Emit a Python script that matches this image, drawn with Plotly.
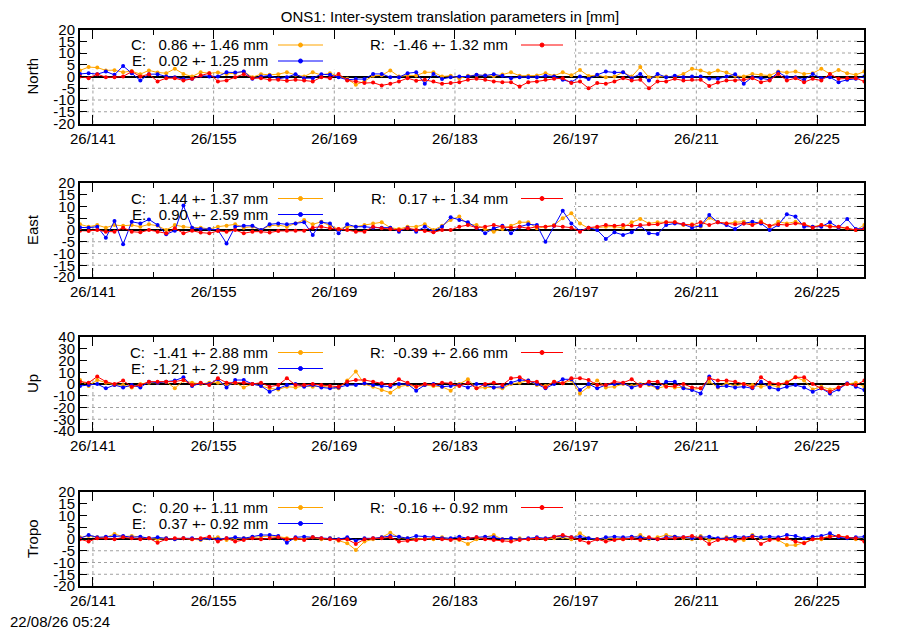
import plotly.graph_objects as go

# day of year (2026), one solution per day, plotted at noon
days = list(range(139, 231))

xtick_vals = [141, 155, 169, 183, 197, 211, 225]
xtick_text = ["26/141", "26/155", "26/169", "26/183", "26/197", "26/211", "26/225"]
xminor_vals = [148, 162, 176, 190, 204, 218]

ytick_vals_20 = [-20, -15, -10, -5, 0, 5, 10, 15, 20]
ytick_text_20 = ["-20", "-15", "-10", "-5", "0", "5", "10", "15", "20"]
ytick_vals_40 = [-40, -30, -20, -10, 0, 10, 20, 30, 40]
ytick_text_40 = ["-40", "-30", "-20", "-10", "0", "10", "20", "30", "40"]

# North [mm]
north_c = [2.6, 4.0, 3.8, 2.6, 2.7, 1.8, 2.3, 1.0, 2.6, 1.7, 1.4, 3.3, 1.1, 0.0, 1.8, 1.4,
           1.7, 1.1, 1.4, 2.1, -0.3, 1.0, 0.7, 1.0, 1.8, 0.7, 0.0, 1.8, 0.6, 1.4, 0.0, -1.0,
           -3.5, -2.0, 0.3, 0.5, 2.6, 0.0, 0.5, 0.4, 1.8, 1.8, 0.0, 0.3, -0.8, 0.3, 0.6, 0.5,
           0.2, 0.8, 1.8, 0.3, 0.3, 0.4, 1.4, 0.3, 1.8, 0.5, 2.8, 0.2, 0.6,
           -0.3, 0.0, 1.8, 0.0, 4.0, -0.3, 0.0, 0.0, 0.0, 1.1, 3.3, 2.6, 1.4, 2.6, 1.7, 0.3,
           0.0, 1.1, 0.7, 0.4, 2.1, 1.7, 2.1, 1.1, 1.4, 3.3, 1.1, 2.8, 1.4, 0.7, 2.1]
north_e = [1.1, 1.4, 1.0, 2.1, 0.7, 4.5, 1.4, -1.7, 1.0, 1.0, 0.0, -0.3, -1.1, -1.0, 0.3, 0.0,
           0.0, 1.8, 1.7, 2.1, -1.0, 0.0, 0.4, -1.0, -0.3, 1.0, -0.7, -0.7, 1.0, 0.7, -0.3, -1.4,
           -1.1, -1.1, 1.1, 1.1, -0.3, -0.3, 1.4, 1.8, -3.1, 1.1, -1.1, -0.3, 0.0, 0.0, 0.7, 0.4,
           1.0, 0.3, -0.7, -0.3, -0.3, -0.3, 0.3, 0.0, -1.4, -2.4, 0.0, -1.1, 0.7,
           2.1, 1.7, 1.8, -0.7, 1.1, -1.7, 1.1, -0.3, 0.3, -0.3, 0.0, 0.0, -1.0, -1.0, 0.0, 1.0,
           -3.1, -0.3, -0.7, -1.4, 1.8, -0.3, -0.3, -1.4, 1.1, -0.7, -0.3, -2.4, -1.4, -1.0, 0.0]
north_r = [0.0, -0.7, 1.0, -0.3, -0.3, 0.0, 2.1, 0.0, 1.0, -2.1, -0.7, -0.7, -1.7, -1.0, 0.4, 1.4,
           -2.1, -1.7, -0.3, 1.0, -0.7, -0.7, -1.4, -1.4, -1.8, -1.4, -1.7, -2.1, -0.3, -0.7, 1.1, -1.7,
           -2.1, -2.8, -2.6, -3.8, -3.1, -2.1, -0.7, -1.8, -1.4, -2.1, -3.1, -2.8, -2.4, -1.4, -1.0, -1.4,
           -2.1, -2.4, -2.4, -4.3, -2.4, -2.1, -1.4, -1.0, -0.7, -2.8, -2.1, -5.0, -2.8,
           -3.1, -2.1, -0.7, -1.7, -1.4, -5.0, -2.1, -2.1, -1.0, -1.7, -1.4, -1.4, -4.0, -2.6, -1.7, -1.7,
           -1.4, -0.7, -2.4, -1.7, 1.1, -1.7, -0.7, -2.4, -1.0, -1.7, 1.1, -1.0, -0.7, -0.7, -2.1]

# East [mm]
east_c = [2.4, 1.4, 2.1, 1.0, 2.1, 1.8, 2.1, 1.4, 2.4, 1.8, 0.0, 2.1, 1.4, 1.0, 1.0, 0.4,
          1.4, 1.8, 2.4, 1.0, 1.4, 0.0, 1.8, 2.1, 1.4, 2.8, 4.3, 2.4, 3.5, 1.8, 0.4, 1.4,
          1.4, 2.1, 2.8, 3.3, 1.0, 0.4, 1.4, 1.4, 2.4, 0.0, 1.8, 4.3, 5.7, 2.4, 2.1, 0.4,
          -0.7, 0.4, 1.8, 3.3, 3.3, 0.7, 1.4, 2.1, 5.0, 7.1, 2.8, 0.7, 1.0, 1.4, 1.4, 1.0,
          3.3, 4.7, 2.8, 3.3, 3.3, 3.3, 2.1, 2.4, 1.4, 5.2, 3.3, 2.8, 3.3, 3.5, 2.4, 3.8,
          1.4, 3.5, 2.8, 3.5, 2.4, 1.4, 2.1, 1.8, 1.0, 0.7, 0.0, 2.1]
east_e = [1.1, 1.0, 1.4, -3.3, 3.8, -6.1, 3.5, 2.8, 4.5, 2.1, -1.8, -0.3, 10.4, 1.0, 0.4, 0.4,
          0.0, -5.7, 1.4, 1.8, 1.8, 0.0, 2.4, 2.8, 2.4, 2.8, 3.3, -2.1, 3.3, 2.8, -1.4, 2.4,
          1.4, 1.4, 1.0, 1.0, 1.0, -0.7, 1.0, -0.7, 1.4, -0.7, 1.4, 5.4, 4.3, 3.3, 1.0, -1.4,
          0.7, 1.8, -1.4, 1.4, 2.4, 2.1, -5.0, 1.8, 8.2, 2.8, -0.4, 1.0, 0.0, -3.8, -1.0, -2.1,
          -1.0, 1.8, -1.4, -1.7, 2.1, 2.8, 2.4, 1.0, 1.8, 6.4, 3.3, 2.1, 0.4, 2.8, 3.5, 2.8,
          0.0, 2.1, 6.7, 5.7, 1.4, 1.4, 1.4, 3.3, 1.0, 4.7, 0.4, 0.7]
east_r = [-0.3, -0.4, 0.0, -0.7, -0.7, 1.0, -0.7, -1.0, 0.0, -0.7, -1.4, 0.7, -1.4, -0.3, -1.1, -1.4,
          -0.4, -0.7, 0.0, -1.4, -0.7, -0.7, -1.1, -0.4, -0.3, -0.3, -0.3, 1.0, 1.4, 0.7, 0.4, 0.0,
          -0.7, -0.7, 1.4, 0.7, 0.4, 0.0, 0.7, 0.0, -0.4, -1.0, 0.0, 0.0, 1.4, 2.1, 1.0, 1.4,
          2.1, 1.4, 1.0, 1.4, 0.7, 1.4, 1.4, 1.8, 1.4, 1.0, -0.7, 1.0, 1.4, 2.1, 1.8, 2.1,
          1.8, 2.1, 2.4, 2.4, 3.3, 3.3, 2.4, 2.1, 3.3, 2.1, 3.3, 2.8, 2.4, 2.8, 2.1, 3.3,
          1.8, 2.4, 2.1, 2.8, 2.4, 1.0, 2.1, 1.4, 1.4, 0.7, 0.0, 0.4]

# Up [mm]
up_c = [3.4, -1.7, 3.4, 1.1, -0.9, -0.9, -2.9, 0.0, 1.1, 1.1, 2.0, -3.7, 2.9, 1.1, 0.0, 1.1,
        1.1, -0.9, 1.1, -2.9, 0.0, -1.7, -3.7, -4.6, -2.3, -2.9, -1.7, -2.3, -1.7, -2.9, -3.7, 2.9,
        10.6, 0.0, -2.3, -5.1, -7.4, -2.3, -0.9, -2.3, -0.9, -1.7, -2.3, -5.7, 0.0, 4.0, -3.7, -2.9,
        -2.9, -3.7, 0.0, 1.1, 2.9, -0.9, -1.7, 2.0, 0.6, 2.9, -8.0, -2.3, 2.9, -2.9, -2.3, 0.0,
        -1.7, 0.0, -0.9, -3.7, -1.7, -2.9, -2.9, -4.6, -3.7, 2.0, -2.9, 0.6, -1.7, 0.0, -0.9, -2.3,
        -0.9, -2.3, 2.0, 5.7, 2.9, -4.6, -2.3, -4.6, -2.9, 0.0, 1.1, -2.3]
up_e = [-1.7, -0.9, 0.0, -3.7, -0.9, -2.9, -0.9, -2.9, 2.0, 1.1, 2.0, 2.9, 5.7, -1.7, 0.6, 0.0,
        4.0, -2.9, 3.4, 3.4, 0.0, -1.7, -6.6, -3.7, -0.9, 0.0, -2.3, -0.9, -2.9, -3.7, -2.9, -0.9,
        -0.9, 0.6, -0.9, -1.7, -2.3, 0.0, 0.0, -5.7, -0.9, 0.0, -2.3, -1.7, -0.9, -2.9, 0.0, -0.9,
        -2.9, -2.3, 1.1, 3.4, 2.9, 0.0, -3.7, 0.0, 4.0, 4.0, -5.1, 0.0, -3.7, -0.9, 0.0, 0.6,
        -2.9, -0.9, 0.0, -2.9, 2.0, 2.0, -3.7, -5.1, -8.0, 6.3, -2.3, -1.7, -2.9, -2.3, -3.7, 2.0,
        -2.9, -4.6, -2.3, -0.9, -2.9, -6.6, -3.7, -8.0, -4.6, 0.6, -2.3, -5.1]
up_r = [2.0, 1.1, 6.3, 2.0, 0.0, 2.9, -2.3, -0.9, 2.0, 2.0, 2.0, 2.0, 3.4, -0.9, 1.1, -0.9,
        4.9, 1.1, 1.1, 1.1, 0.0, 1.1, -2.3, -0.9, 4.9, -0.9, -0.9, 0.0, -0.9, -1.7, -2.3, 2.0,
        3.4, 3.4, 2.0, 0.6, -0.9, 4.0, 1.1, -2.3, 0.0, -0.9, 1.1, 0.6, -1.7, 1.1, -3.7, 0.0,
        1.1, -0.9, 4.9, 5.7, 2.0, 2.0, -2.9, 2.0, 0.6, 4.9, 4.9, 3.4, -0.9, -0.9, 2.0, 1.1,
        4.0, -1.7, 2.0, 2.0, -2.3, -1.7, 0.0, -2.9, -3.7, 4.9, 2.9, 2.9, 2.0, 0.0, -2.9, 5.7,
        1.1, 0.0, 1.1, 5.7, 5.7, 0.0, -3.7, -6.6, -2.9, 0.0, -0.9, 2.9]

# Tropo [mm]
tropo_c = [0.7, 1.3, 0.7, 0.7, 2.1, 1.0, 1.3, 0.7, 0.3, -0.1, 0.3, -0.1, 0.3, -0.1, -0.4, 0.3,
           0.7, -0.4, 0.3, 0.3, 0.7, 1.0, 1.3, 1.0, 0.3, -0.1, 0.3, 0.7, -0.1, 0.3, -0.7, -1.8,
           -4.7, -1.1, -0.1, 0.7, 2.7, 0.7, 0.3, -0.1, 0.3, -0.1, 0.7, -0.1, -0.4, -2.1, -0.1, 0.7,
           1.7, -0.1, -0.4, 0.3, -0.1, 0.3, -0.1, 0.3, 0.7, -0.1, 2.4, 0.3, -0.1, 0.3, 0.3, -0.1,
           0.3, 1.7, -0.1, 0.7, 1.7, 1.0, 0.3, -0.1, 1.3, -0.4, -0.1, 0.7, -0.1, -0.4, 1.7, 0.3,
           -0.1, -0.4, -2.6, -2.6, -1.6, -0.1, -0.1, 1.7, 1.3, 0.7, -0.1, -0.4]
tropo_e = [0.3, 1.7, 0.7, 1.0, 1.3, 1.3, 0.7, 1.0, 0.3, 0.7, 0.3, -0.1, 0.3, 0.3, -0.1, 0.3,
           -0.1, 0.3, 0.7, 0.3, 1.0, 1.7, 1.7, 1.3, -1.6, 0.7, 1.0, 0.7, 0.3, 0.3, -0.1, 0.7,
           -0.7, 0.3, 0.3, 0.7, 1.3, 1.0, 0.3, 1.3, 1.0, 0.7, 0.3, 0.3, 1.0, 0.3, 0.7, 1.0,
           0.7, -0.1, 0.3, -0.1, 0.3, 0.7, 0.3, 1.0, 1.3, 0.7, 1.0, 0.3, -0.1, 0.7, 1.0, 0.7,
           1.0, 0.7, 0.3, -0.1, 0.7, 1.0, 0.7, 0.3, 0.7, 1.0, 0.3, 0.3, 1.0, 0.7, 1.3, 0.7,
           1.0, 0.7, 1.7, 1.3, 0.3, 1.0, 1.3, 2.4, 0.7, 0.3, 0.7, 1.0]
tropo_r = [-0.1, -1.1, 0.3, 0.3, -0.1, 0.7, 0.3, -0.1, 0.3, -1.6, -0.1, 0.3, 0.3, -0.1, 0.3, 1.0,
           -1.1, 0.3, -1.1, -0.4, 0.3, -0.1, 0.3, 0.7, -0.1, 0.3, -0.4, 0.7, 0.3, -0.1, -0.4, -0.1,
           -2.1, -0.1, 0.3, 0.3, 0.7, -1.1, -0.7, -0.4, -0.1, 0.3, -0.1, -0.4, -0.1, 0.3, 0.7, -0.1,
           -0.4, -0.7, -1.1, -0.4, -0.1, 0.3, -0.1, 1.0, 1.7, 0.7, -0.4, -1.6, -0.1, -1.1, -0.4, -0.1,
           0.3, -0.4, 0.7, -0.1, 0.3, 0.3, 0.7, 1.3, 0.3, -2.1, -0.4, -0.1, -0.7, 0.3, 1.0, -2.1,
           -0.4, -0.1, 0.3, -1.1, -1.8, -0.1, 0.3, 1.0, 1.3, 0.7, 0.3, -1.1]

# mean, rms per system shown in the keys
north_stats = [(0.86, 1.46), (0.02, 1.25), (-1.46, 1.32)]
east_stats = [(1.44, 1.37), (0.90, 2.59), (0.17, 1.34)]
up_stats = [(-1.41, 2.88), (-1.21, 2.99), (-0.39, 2.66)]
tropo_stats = [(0.20, 1.11), (0.37, 0.92), (-0.16, 0.92)]

systems = ["C", "E", "R"]
colors = ["#ffa500", "#0000ff", "#ff0000"]

panels = [
    ("North", [north_c, north_e, north_r], north_stats, 20),
    ("East", [east_c, east_e, east_r], east_stats, 20),
    ("Up", [up_c, up_e, up_r], up_stats, 40),
    ("Tropo", [tropo_c, tropo_e, tropo_r], tropo_stats, 20),
]

# positions below are page pixels; the page body adds an 8px offset
W, H = 900, 630
off = 8
plot_l, plot_r, plot_t, plot_b = 80, 864, 29, 586
pw, ph_total = plot_r - plot_l, plot_b - plot_t
panel_tops = [29.5, 183, 337, 492]
panel_h = 94
xmin, xmax = 139.5, 230.45

x = [d + 0.5 for d in days]
font = "Liberation Sans, Arial, sans-serif"
fs = 15
grid_line = dict(color="#a0a0a0", width=1, dash="dot")

fig = go.Figure()
shapes = []
annotations = []


def fx(px):
    return (px - plot_l) / pw


def fy(py, ptop):
    return (ptop + panel_h - py) / panel_h


for k, (name, series, stats, lim) in enumerate(panels):
    n = "" if k == 0 else str(k + 1)
    ptop = panel_tops[k]
    for sys_name, col, vals in zip(systems, colors, series):
        fig.add_trace(go.Scatter(
            x=x, y=vals, xaxis="x" + n, yaxis="y" + n,
            mode="lines+markers", line=dict(color=col, width=1),
            marker=dict(color=col, size=4), showlegend=False,
            name=sys_name,
        ))

    y0 = (plot_b - (ptop + panel_h)) / ph_total
    y1 = (plot_b - ptop) / ph_total
    if lim == 20:
        tv, tt = ytick_vals_20, ytick_text_20
    else:
        tv, tt = ytick_vals_40, ytick_text_40

    fig.update_layout({
        "xaxis" + n: dict(
            domain=[0, 1], anchor="y" + n, range=[xmin, xmax],
            tickmode="array", tickvals=xtick_vals, ticktext=xtick_text,
            ticks="inside", ticklen=9, tickwidth=1, tickcolor="black",
            minor=dict(tickmode="array", tickvals=xminor_vals, ticks="inside",
                       ticklen=5, tickwidth=1, tickcolor="black", showgrid=False),
            showline=True, linecolor="black", linewidth=2, mirror="ticks",
            showgrid=False, zeroline=False,
            tickfont=dict(family=font, size=fs, color="black"),
        ),
        "yaxis" + n: dict(
            domain=[y0, y1], anchor="x" + n, range=[-lim, lim],
            tickmode="array", tickvals=tv, ticktext=tt,
            ticks="inside", ticklen=7, tickwidth=1, tickcolor="black",
            showline=True, linecolor="black", linewidth=2, mirror="ticks",
            showgrid=False,
            zeroline=True, zerolinecolor="black", zerolinewidth=2,
            tickfont=dict(family=font, size=fs, color="black"),
        ),
    })

    xr = "x" + n + " domain"
    yr = "y" + n + " domain"
    # dotted grid
    for gx in xtick_vals:
        shapes.append(dict(type="line", xref="x" + n, yref=yr, layer="below",
                           x0=gx, x1=gx, y0=0, y1=1, line=grid_line))
    for gy in tv:
        if gy != 0 and abs(gy) != lim:
            shapes.append(dict(type="line", xref=xr, yref="y" + n, layer="below",
                               x0=0, x1=1, y0=gy, y1=gy, line=grid_line))
    # opaque key box
    shapes.append(dict(type="rect", xref=xr, yref=yr, layer="below",
                       x0=fx(81), x1=fx(574), y0=fy(ptop + 40, ptop), y1=fy(ptop + 1, ptop),
                       fillcolor="white", line=dict(width=0)))

    # key entries: C, E in first column, R in second
    key_pos = [(270, 278, 323, ptop + 15.5), (270, 278, 323, ptop + 31.5), (510, 521, 563, ptop + 15.5)]
    for (sys_name, col, (m, s), (tx, lx0, lx1, ly)) in zip(systems, colors, stats, key_pos):
        label = f"{sys_name}: {m:6.2f} +- {s:.2f} mm".replace(" ", "\u00a0")
        annotations.append(dict(text=label, xref=xr, yref=yr, x=fx(tx), y=fy(ly, ptop),
                                xanchor="right", yanchor="middle", showarrow=False,
                                font=dict(family=font, size=fs, color="black")))
        shapes.append(dict(type="line", xref=xr, yref=yr, layer="above",
                           x0=fx(lx0), x1=fx(lx1), y0=fy(ly, ptop), y1=fy(ly, ptop),
                           line=dict(color=col, width=1)))
        cx = (lx0 + lx1) / 2
        shapes.append(dict(type="circle", xref=xr, yref=yr, layer="above",
                           x0=fx(cx - 2), x1=fx(cx + 2), y0=fy(ly + 2, ptop), y1=fy(ly - 2, ptop),
                           fillcolor=col, line=dict(color=col, width=1)))

    # y axis title
    annotations.append(dict(text=name, xref="paper", yref=yr, x=fx(32), y=0.5,
                            xanchor="center", yanchor="middle", textangle=-90, showarrow=False,
                            font=dict(family=font, size=fs, color="black")))

# time stamp
annotations.append(dict(text="22/08/26 05:24", xref="paper", yref="paper",
                        x=fx(8), y=(plot_b - 622) / ph_total, xanchor="left", yanchor="middle",
                        showarrow=False, font=dict(family=font, size=fs, color="black")))

fig.update_layout(
    width=W, height=H,
    margin=dict(l=plot_l - off, r=W - plot_r + off, t=plot_t - off, b=H - plot_b + off),
    paper_bgcolor="white", plot_bgcolor="white",
    title=dict(text="ONS1: Inter-system translation parameters in [mm]",
               x=(450 - off) / W, xref="container", xanchor="center",
               y=1, yref="container", yanchor="top", pad=dict(t=3, b=0, l=0, r=0),
               font=dict(family=font, size=fs, color="black")),
    shapes=shapes, annotations=annotations,
    showlegend=False,
)

fig.write_html("out.html")
